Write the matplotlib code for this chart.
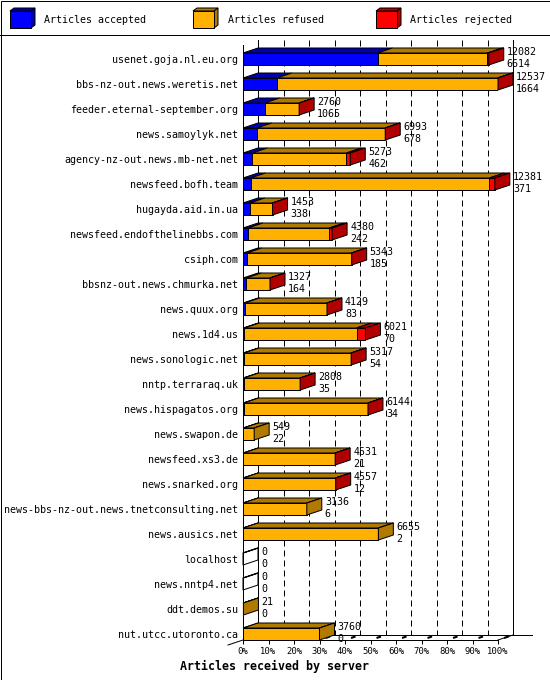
import matplotlib
matplotlib.use('Agg')
import matplotlib.pyplot as plt
from matplotlib.patches import Polygon, Rectangle

# servers, top to bottom
hosts = ['usenet.goja.nl.eu.org', 'bbs-nz-out.news.weretis.net',
         'feeder.eternal-september.org', 'news.samoylyk.net',
         'agency-nz-out.news.mb-net.net', 'newsfeed.bofh.team',
         'hugayda.aid.in.ua', 'newsfeed.endofthelinebbs.com', 'csiph.com',
         'bbsnz-out.news.chmurka.net', 'news.quux.org', 'news.1d4.us',
         'news.sonologic.net', 'nntp.terraraq.uk', 'news.hispagatos.org',
         'news.swapon.de', 'newsfeed.xs3.de', 'news.snarked.org',
         'news-bbs-nz-out.news.tnetconsulting.net', 'news.ausics.net',
         'localhost', 'news.nntp4.net', 'ddt.demos.su', 'nut.utcc.utoronto.ca']
offered = [12082, 12537, 2760, 6993, 5273, 12381, 1453, 4380, 5343, 1327,
           4129, 6021, 5317, 2808, 6144, 549, 4531, 4557, 3136, 6655,
           0, 0, 21, 3760]
accepted = [6614, 1664, 1065, 678, 462, 371, 338, 242, 185, 164,
            83, 70, 54, 35, 34, 22, 21, 12, 6, 2,
            0, 0, 0, 0]
# estimated from the red slices
rejected = [70, 20, 5, 10, 190, 270, 5, 140, 5, 3,
            5, 440, 5, 5, 5, 0, 5, 5, 0, 0,
            0, 0, 0, 0]
refused = [o - a - r for o, a, r in zip(offered, accepted, rejected)]

series = ['Articles accepted', 'Articles refused', 'Articles rejected']
front_cols = ['#0000ff', '#ffb000', '#ff0000']
dark_cols = ['#0000b0', '#b07900', '#b00000']

plt.rcParams['font.family'] = ['DejaVu Sans Mono']
LW = 0.72  # one pixel

W, H, DPI = 550, 680, 100
fig = plt.figure(figsize=(W / DPI, H / DPI), dpi=DPI, facecolor='white')

# plot area (front plane) in pixels
px_l, px_r, px_t, px_b = 243, 498, 45, 640
ax = fig.add_axes([px_l / W, 1 - px_b / H, (px_r - px_l) / W, (px_b - px_t) / H])
ax.set_facecolor('none')

top_row, bot_row = -0.56, 23.24
ax.set_xlim(0, 100)
ax.set_ylim(bot_row, top_row)

# 3d depth, in data units
ddx = 15 / ((px_r - px_l) / 100.0)
ddy = 5 / ((px_b - px_t) / (bot_row - top_row))
bh = 0.48

vmax = max(offered)
pct = lambda v: 100.0 * v / vmax

# back wall, floor and grid
ax.plot([ddx, ddx], [top_row - ddy, bot_row - ddy], color='black', lw=LW, clip_on=False, zorder=1)
ax.plot([100 + ddx, 100 + ddx], [top_row - ddy, bot_row - ddy], color='black', lw=LW, clip_on=False, zorder=1)
ax.plot([ddx, 113.3], [bot_row - ddy, bot_row - ddy], color='black', lw=LW, clip_on=False, zorder=1)
ax.plot([100, 100 + ddx], [bot_row, bot_row - ddy], color='black', lw=LW, clip_on=False, zorder=1)
ax.plot([-ddx, 0], [bot_row + ddy, bot_row], color='black', lw=LW, clip_on=False, zorder=1)
for k in range(1, 10):
    ax.plot([10 * k + ddx] * 2, [top_row - ddy, bot_row - ddy], color='black', lw=LW,
            ls=(0, (6, 4)), clip_on=False, zorder=1)
for k in range(0, 11):
    x = 10 * k
    ax.plot([x + 0.4 * ddx, x + 0.7 * ddx], [bot_row - 0.4 * ddy, bot_row - 0.7 * ddy],
            color='black', lw=1.5, clip_on=False, zorder=1, solid_capstyle='butt')

rows = list(range(len(hosts)))
segs = [accepted, refused, rejected]

left = [0.0] * len(hosts)
for k, vals in enumerate(segs):
    w = [pct(v) for v in vals]
    ax.barh(rows, w, height=bh, left=left, color=front_cols[k], edgecolor='black',
            linewidth=LW, zorder=3)
    for i in rows:
        x0, x1 = left[i], left[i] + w[i]
        yt = i - bh / 2
        ax.add_patch(Polygon([(x0, yt), (x1, yt), (x1 + ddx, yt - ddy), (x0 + ddx, yt - ddy)],
                             closed=True, facecolor=dark_cols[k], edgecolor='black',
                             lw=LW, clip_on=False, zorder=3))
    left = [l + ww for l, ww in zip(left, w)]

# right side of each bar, coloured by its last non-empty part
for i in rows:
    last = None
    for k, vals in enumerate(segs):
        if vals[i] > 0:
            last = k
    x = left[i]
    yt, yb = i - bh / 2, i + bh / 2
    fc = dark_cols[last] if last is not None else 'none'
    ax.add_patch(Polygon([(x, yt), (x + ddx, yt - ddy), (x + ddx, yb - ddy), (x, yb)],
                         closed=True, facecolor=fc, edgecolor='black', lw=LW,
                         clip_on=False, zorder=4))
    ax.text(x + ddx + 1.2, i - 0.03, '%d\n%d' % (offered[i], accepted[i]), ha='left',
            va='center', fontsize=7.2, linespacing=1.3, clip_on=False, zorder=5)

for s in ['top', 'right']:
    ax.spines[s].set_visible(False)
for s in ['left', 'bottom']:
    ax.spines[s].set_linewidth(LW)
    ax.spines[s].set_zorder(2)

ax.set_yticks(rows, labels=hosts)
ax.tick_params(axis='y', length=0, pad=3.6, labelsize=7.2)
ax.set_xticks(range(0, 101, 10), labels=['%d%%' % v for v in range(0, 101, 10)])
ax.tick_params(axis='x', length=2.6, width=LW, direction='out', pad=2.5, labelsize=6.4)

fig.text(275 / W, 1 - 666 / H, 'Articles received by server', ha='center', va='center',
         fontsize=8.4, fontweight='bold')

# legend band and frame, in pixel coords
bg = fig.add_axes([0, 0, 1, 1], zorder=-1)
bg.set_xlim(0, W)
bg.set_ylim(H, 0)
bg.axis('off')
bg.add_patch(Rectangle((0.5, 0.5), W - 1, H - 1, facecolor='white', edgecolor='black', lw=LW))
bg.plot([0, W], [35, 35], color='black', lw=LW)
for k, name in enumerate(series):
    x0 = 10 + 183 * k
    x1, y0, y1 = x0 + 21, 11, 28
    bg.add_patch(Polygon([(x0, y0), (x1, y0), (x1 + 4, y0 - 3), (x0 + 4, y0 - 3)],
                         closed=True, facecolor=dark_cols[k], edgecolor='black', lw=LW))
    bg.add_patch(Polygon([(x1, y0), (x1 + 4, y0 - 3), (x1 + 4, y1 - 3), (x1, y1)],
                         closed=True, facecolor=dark_cols[k], edgecolor='black', lw=LW))
    bg.add_patch(Rectangle((x0, y0), x1 - x0, y1 - y0, facecolor=front_cols[k],
                           edgecolor='black', lw=LW))
    bg.text(x0 + 34.5, 20, name, ha='left', va='center', fontsize=7.2)

fig.savefig('out.png', dpi=DPI, facecolor='white')
